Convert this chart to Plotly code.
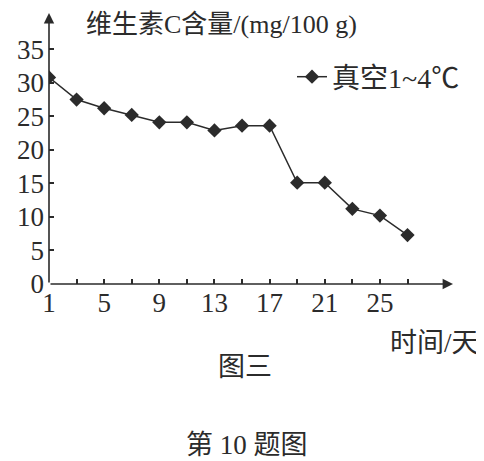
import plotly.graph_objects as go

days = [1, 3, 5, 7, 9, 11, 13, 15, 17, 19, 21, 23, 25, 27]
vitamin_c = [30.8, 27.5, 26.2, 25.2, 24.1, 24.1, 22.9, 23.6, 23.6, 15.1, 15.1, 11.2, 10.2, 7.3]
series_name = "真空1~4℃"
x_tick_vals = list(range(1, 28, 2))
x_tick_text = ["1", "", "5", "", "9", "", "13", "", "17", "", "21", "", "25", ""]
y_tick_vals = [0, 5, 10, 15, 20, 25, 30, 35]

ink = "#2b2b2b"
font_fam = "Liberation Serif, Noto Sans CJK SC, serif"

OFF = 8  # page body margin
W, H = 484 - OFF, 461 - OFF
L, R, T = 49 - OFF, 31, 13 - OFF
AXIS_Y = 284  # reference pixel of the x axis
B = H - (AXIS_Y - OFF)
pw, ph = W - L - R, H - T - B

def px(xp):
    return (xp - 49) / pw

def py(yp):
    return (AXIS_Y - yp) / ph

fig = go.Figure()
fig.add_trace(go.Scatter(
    x=days, y=vitamin_c, name=series_name, mode="lines+markers",
    line=dict(color=ink, width=1.5),
    marker=dict(symbol="diamond", size=11, color=ink),
))

fig.update_layout(
    width=W, height=H,
    margin=dict(l=L, r=R, t=T, b=B),
    paper_bgcolor="white", plot_bgcolor="white",
    font=dict(family=font_fam, size=27, color=ink),
    showlegend=True,
    legend=dict(x=px(292), y=py(77), xanchor="left", yanchor="middle",
                bgcolor="rgba(0,0,0,0)", font=dict(size=28, color=ink),
                itemwidth=30),
    xaxis=dict(range=[1, 30.3], showgrid=False, zeroline=False,
               showline=False, tickmode="array", tickvals=x_tick_vals,
               ticktext=x_tick_text, ticks="inside", ticklen=5, tickwidth=1.5,
               tickcolor=ink, tickfont=dict(size=27)),
    yaxis=dict(range=[0, 40.4], showgrid=False, zeroline=False,
               showline=False, tickmode="array", tickvals=y_tick_vals,
               ticks="inside", ticklen=5, tickwidth=1.5, tickcolor=ink,
               tickfont=dict(size=27), ticklabelstandoff=4),
)

# axes with arrows
fig.add_annotation(x=30.3, y=0, ax=1, ay=0, xref="x", yref="y", axref="x", ayref="y",
                   showarrow=True, arrowhead=2, arrowsize=1.3, arrowwidth=1.6,
                   arrowcolor=ink, text="")
fig.add_annotation(x=1, y=40.4, ax=1, ay=0, xref="x", yref="y", axref="x", ayref="y",
                   showarrow=True, arrowhead=2, arrowsize=1.3, arrowwidth=1.6,
                   arrowcolor=ink, text="")

fig.add_annotation(text="维生素C含量/(mg/100 g)", x=px(221), y=py(OFF), xref="paper", yref="paper",
                   showarrow=False, font=dict(size=26, color=ink), xanchor="center", yanchor="top")
fig.add_annotation(text="时间/天", x=px(434), y=py(343), xref="paper", yref="paper",
                   showarrow=False, font=dict(size=27, color=ink), xanchor="center", yanchor="middle")
fig.add_annotation(text="图三", x=px(245), y=py(367), xref="paper", yref="paper",
                   showarrow=False, font=dict(size=27, color=ink), xanchor="center", yanchor="middle")
fig.add_annotation(text="第 10 题图", x=px(247), y=py(445), xref="paper", yref="paper",
                   showarrow=False, font=dict(size=27, color=ink), xanchor="center", yanchor="middle")

fig.write_html("out.html")
